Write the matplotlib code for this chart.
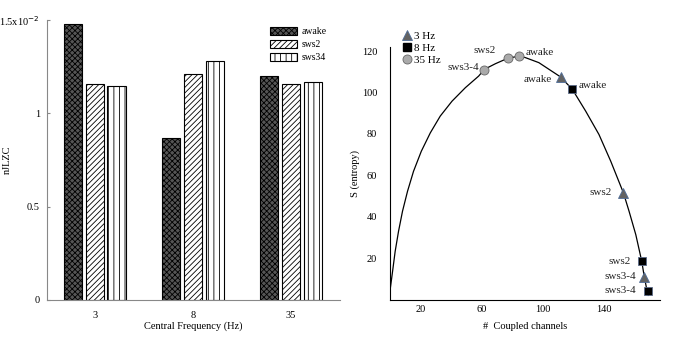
import numpy as np
import matplotlib
matplotlib.use('Agg')
import matplotlib.pyplot as plt
from matplotlib.lines import Line2D

plt.rcParams['font.family'] = ['Liberation Serif', 'DejaVu Serif']
plt.rcParams['font.size'] = 7.5
plt.rcParams['hatch.linewidth'] = 0.6

# left panel: nJLZC per central frequency
freqs = ['3', '8', '35']
awake = [1.48, 0.87, 1.20]
sws2 = [1.155, 1.21, 1.155]
sws34 = [1.145, 1.28, 1.17]

# right panel: entropy vs number of coupled channels (curve)
curve_x = [0.3, 1.9, 3.6, 5.8, 8.4, 11.7, 15.6, 20.7, 26.6, 33.1, 40.8, 49.5, 58.2,
           62.0, 69.2, 77.2, 84.9, 88.9, 97.6, 105.2, 111.8, 119.5, 128.2, 136.9,
           144.6, 152.9, 156.6, 161.0, 164.9, 166.4, 168.0, 169.2]
curve_y = [4.6, 13.5, 23.2, 32.9, 42.6, 52.3, 61.9, 71.6, 80.5, 88.6, 95.8, 102.3, 107.9,
           111.2, 113.9, 116.5, 117.6, 116.8, 114.4, 110.7, 107.5, 101.5, 91.0, 79.7,
           66.8, 51.5, 42.6, 31.3, 18.4, 11.6, 5.5, 2.0]
hz3_x = [111.8, 152.9, 166.6]
hz3_y = [107.6, 51.5, 11.1]
hz3_lab = ['awake', 'sws2', 'sws3-4']
hz8_x = [119.5, 164.9, 169.0]
hz8_y = [101.5, 18.6, 4.3]
hz8_lab = ['awake', 'sws2', 'sws3-4']
hz35_x = [62.0, 77.2, 84.9]
hz35_y = [111.0, 116.5, 117.6]
hz35_lab = ['sws3-4', 'sws2', 'awake']

fig = plt.figure(figsize=(6.8, 3.4), dpi=100)

# ---- bar chart ----
ax1 = fig.add_axes([0.069, 0.118, 0.431, 0.823])
pos = np.arange(len(freqs))
w = 0.184
step = 0.22
styles = [('awake', awake, dict(facecolor='#555555', hatch='xxxxxx')),
          ('sws2', sws2, dict(facecolor='white', hatch='//////')),
          ('sws34', sws34, dict(facecolor='white', hatch='|||'))]
for i, (name, vals, st) in enumerate(styles):
    ax1.bar(pos + (i - 1) * step, vals, width=w, edgecolor='black', linewidth=0.8,
            label=name, **st)
ax1.set_xlim(-0.49, 2.5)
ax1.set_ylim(0, 1.5)
ax1.set_xticks(pos)
ax1.set_xticklabels(freqs)
ax1.set_yticks([0, 0.5, 1, 1.5])
ax1.set_yticklabels(['0', '0.5', '1', '1.5x10$^{-2}$'])
ax1.tick_params(axis='x', length=0, pad=8)
ax1.tick_params(axis='y', length=2, direction='in', color='#888888', pad=5)
for s in ['top', 'right']:
    ax1.spines[s].set_visible(False)
for s in ['left', 'bottom']:
    ax1.spines[s].set_color('#888888')
ax1.set_xlabel('Central Frequency (Hz)', labelpad=1)
ax1.set_ylabel('nJLZC')
ax1.yaxis.set_label_coords(-0.12, 0.5)
ax1.legend(loc='upper left', bbox_to_anchor=(0.39, 0.935), bbox_transform=fig.transFigure,
           frameon=False, borderpad=0, handlelength=2.8, handleheight=0.9,
           handletextpad=0.4, labelspacing=0.35, fontsize=7)

# ---- entropy curve ----
ax2 = fig.add_axes([0.573, 0.119, 0.398, 0.743])
ax2.plot(curve_x, curve_y, color='black', linewidth=0.9)
ax2.plot(hz3_x, hz3_y, linestyle='none', marker='^', ms=7, color='#636363',
         markeredgecolor='#4f6d99', markeredgewidth=0.6)
ax2.plot(hz8_x, hz8_y, linestyle='none', marker='s', ms=6, color='black',
         markeredgecolor='#5a6a88', markeredgewidth=0.6)
ax2.plot(hz35_x, hz35_y, linestyle='none', marker='o', ms=6.5, color='#aaaaaa',
         markeredgecolor='#666666', markeredgewidth=0.6)

offs3 = [(-9, -3, 'right'), (-12, 0, 'right'), (-8, 0, 'right')]
offs8 = [(6, 4, 'left'), (-11, 0, 'right'), (-12, 0, 'right')]
offs35 = [(-5, 2, 'right'), (-12, 8, 'right'), (6, 4, 'left')]
for xs, ys, labs, offs in [(hz3_x, hz3_y, hz3_lab, offs3), (hz8_x, hz8_y, hz8_lab, offs8),
                           (hz35_x, hz35_y, hz35_lab, offs35)]:
    for x, y, lab, (dx, dy, ha) in zip(xs, ys, labs, offs):
        ax2.annotate(lab, (x, y), xytext=(dx, dy), textcoords='offset pixels',
                     ha=ha, va='center', color='#222222', fontsize=8)

ax2.set_xlim(0, 177)
ax2.set_ylim(0, 122)
ax2.set_xticks([20, 60, 100, 140])
ax2.set_yticks([20, 40, 60, 80, 100, 120])
ax2.tick_params(axis='x', length=0, pad=4)
ax2.tick_params(axis='y', length=0, pad=9)
for s in ['top', 'right']:
    ax2.spines[s].set_visible(False)
ax2.set_xlabel('#  Coupled channels', labelpad=6)
ax2.set_ylabel('S (entropy)')
ax2.yaxis.set_label_coords(-0.11, 0.5)

handles = [Line2D([], [], linestyle='none', marker='^', ms=7, color='#636363',
                  markeredgecolor='#4f6d99', markeredgewidth=0.6),
           Line2D([], [], linestyle='none', marker='s', ms=6, color='black'),
           Line2D([], [], linestyle='none', marker='o', ms=6.5, color='#aaaaaa',
                  markeredgecolor='#666666', markeredgewidth=0.6)]
ax2.legend(handles, ['3 Hz', '8 Hz', '35 Hz'], loc='upper left',
           bbox_to_anchor=(0.584, 0.925), bbox_transform=fig.transFigure,
           frameon=False, borderpad=0, handlelength=0.8, handletextpad=0.2,
           labelspacing=0.2, fontsize=8)

fig.savefig('out.png', dpi=100)
